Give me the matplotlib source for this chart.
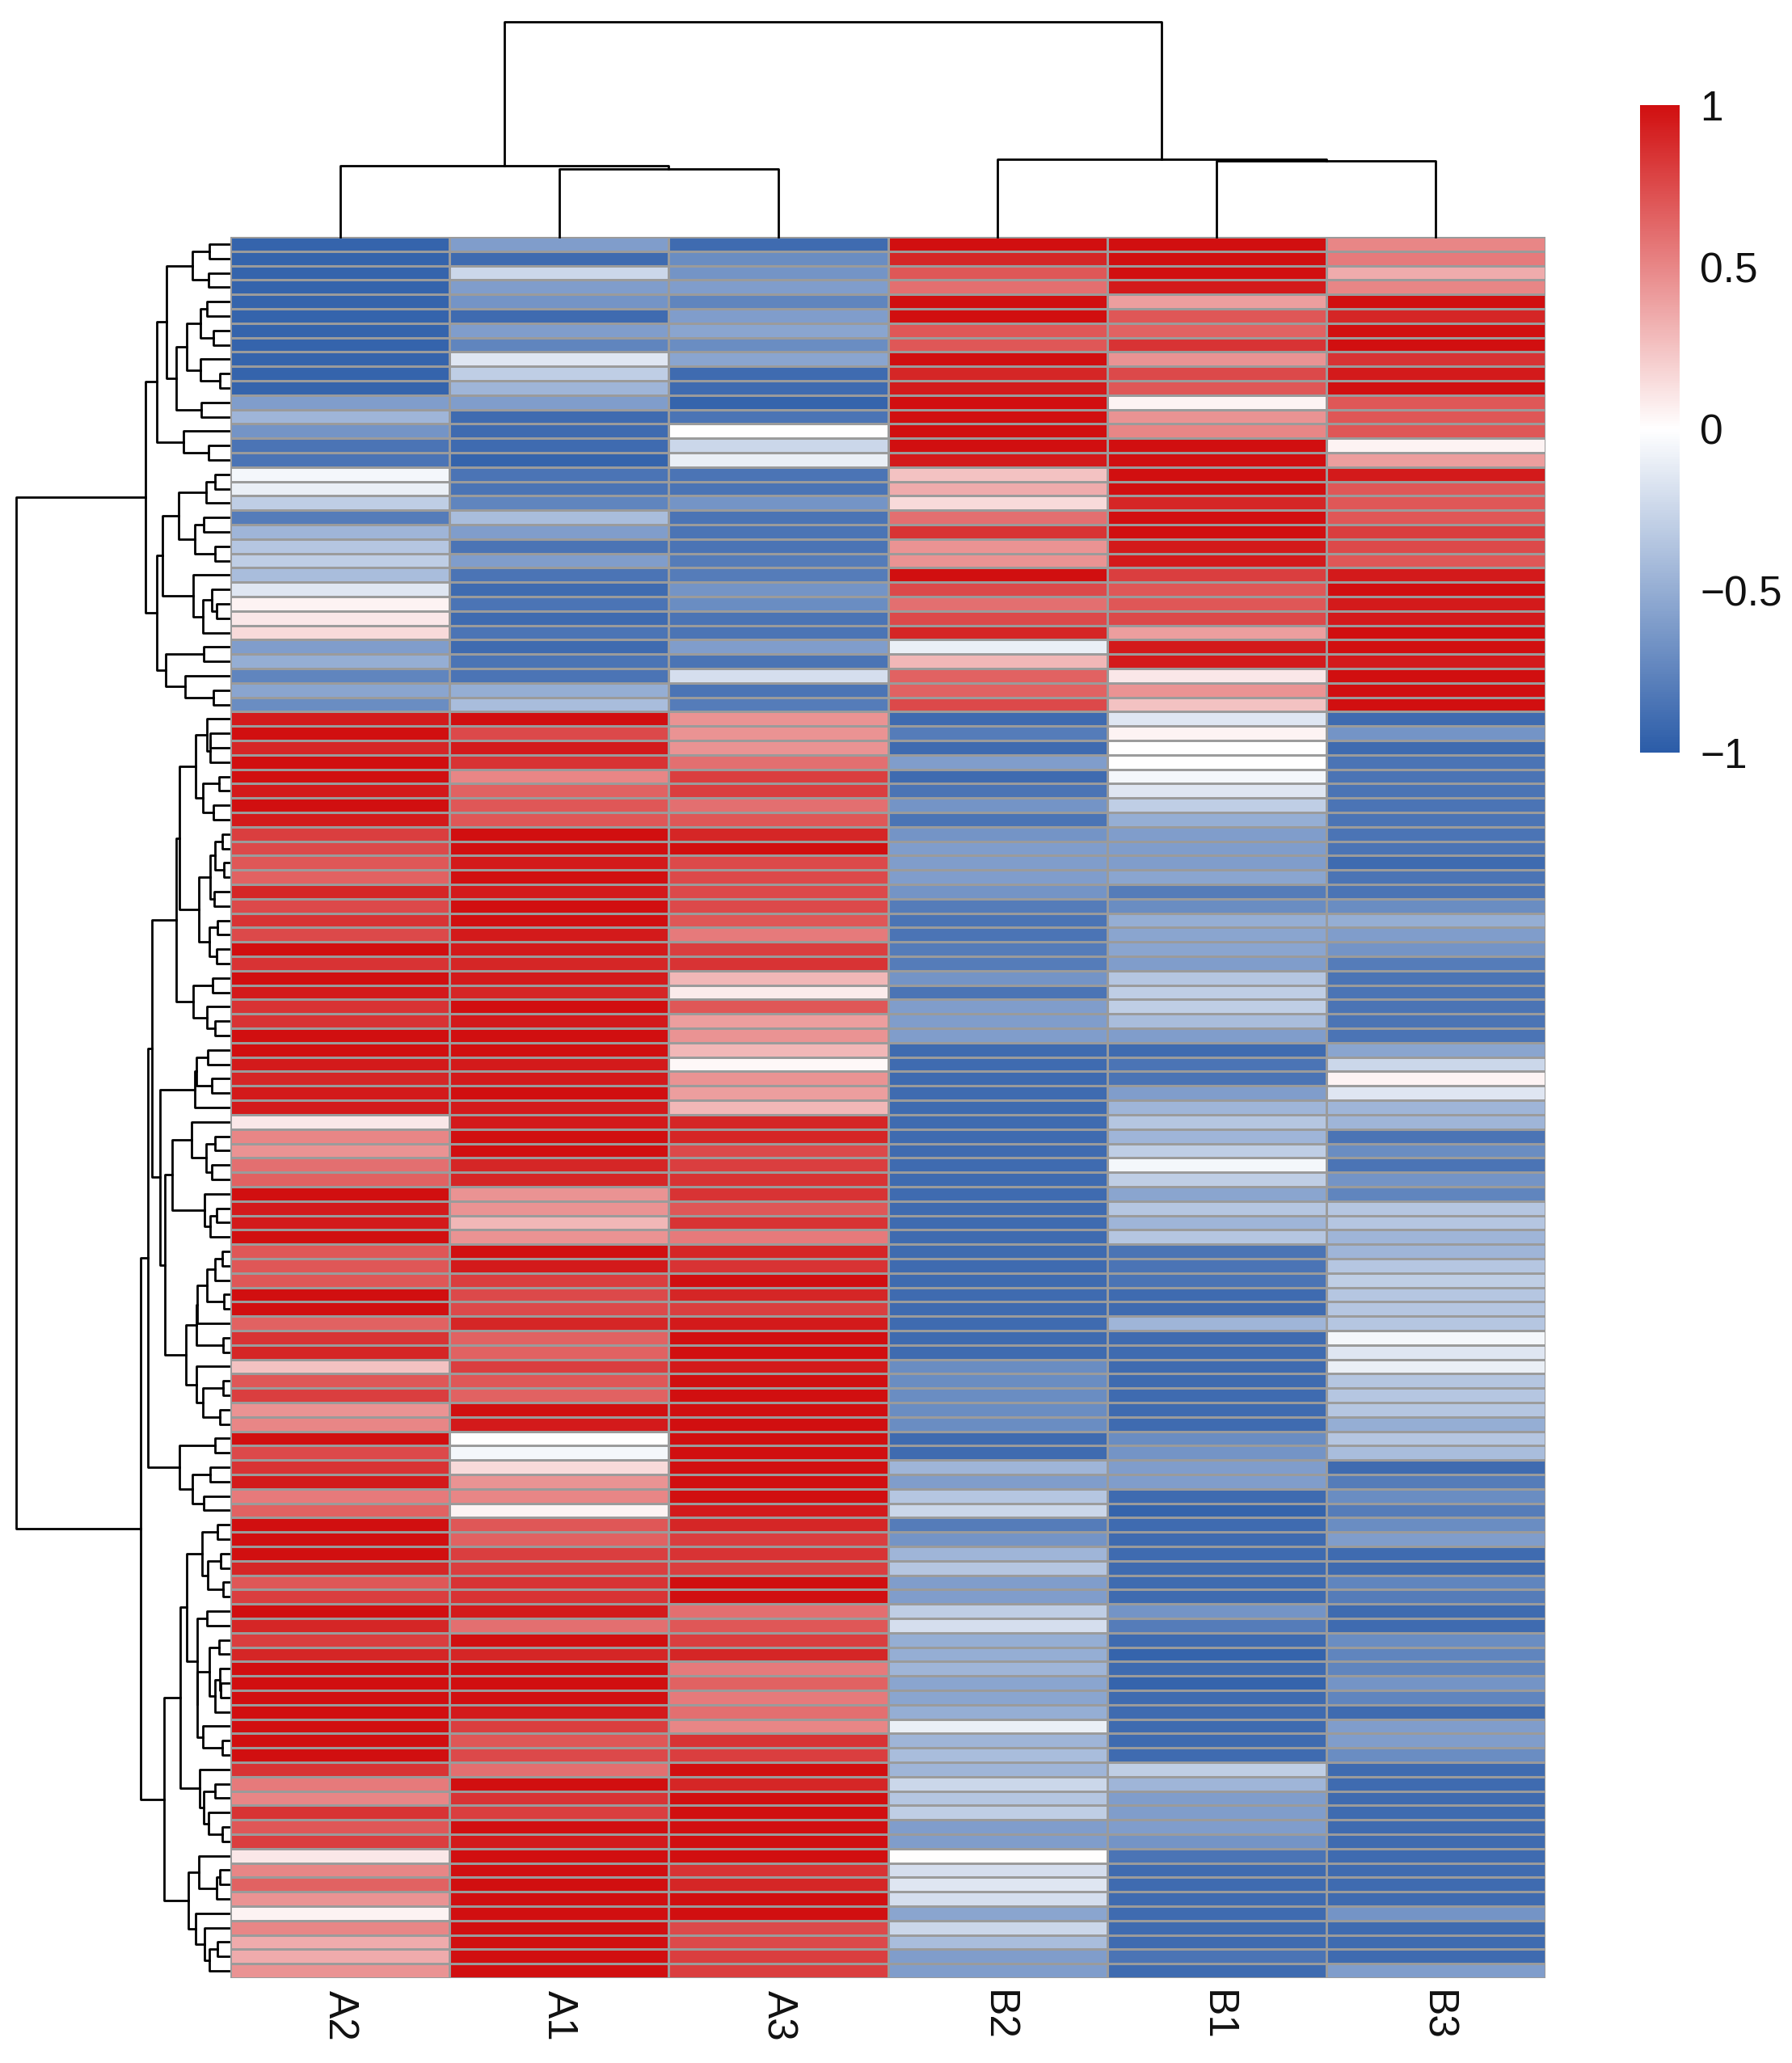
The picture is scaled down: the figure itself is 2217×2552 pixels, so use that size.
import numpy as np
import matplotlib
matplotlib.use('Agg')
import matplotlib.pyplot as plt
from matplotlib.colors import LinearSegmentedColormap

plt.rcParams['font.family'] = ['Liberation Sans', 'DejaVu Sans']

# 样本顺序（与图中列顺序一致）
samples = ['A2', 'A1', 'A3', 'B2', 'B1', 'B3']

# 每列 121 个基因的标准化表达值，从上到下
A2 = [-0.95, -0.95, -0.95, -0.95, -0.95, -0.95, -0.95, -0.95, -0.95, -0.95, -0.95, -0.6, -0.45, -0.65, -0.85, -0.85, -0.05,
      -0.1, -0.3, -0.8, -0.45, -0.35, -0.3, -0.4, -0.15, 0.05, 0.1, 0.15, -0.6, -0.5, -0.75, -0.55, -0.7, 0.95, 1, 0.9,
      1, 1, 0.95, 1, 0.95, 0.8, 0.75, 0.7, 0.65, 0.9, 0.75, 0.85, 0.75, 1, 0.85, 1, 0.95, 0.85, 0.85,
      1, 1, 0.95, 0.9, 0.95, 0.95, 0.1, 0.5, 0.45, 0.6, 0.65, 1, 0.95, 0.95, 1, 0.7, 0.7, 0.7,
      1, 1, 0.65, 0.85, 0.9, 0.25, 0.7, 0.8, 0.45, 0.5, 1, 0.75, 0.85, 0.95, 0.55, 0.65, 1, 1, 1,
      0.9, 0.7, 0.8, 1, 0.9, 0.8, 0.9, 1, 1, 1, 1, 1, 1, 1, 0.85, 0.55, 0.5, 0.85,
      0.7, 0.8, 0.1, 0.5, 0.65, 0.45, 0.05, 0.5, 0.35, 0.35, 0.45]
A1 = [-0.6, -0.9, -0.25, -0.6, -0.65, -0.9, -0.6, -0.75, -0.15, -0.3, -0.45, -0.6, -0.9, -0.9, -0.9, -0.95, -0.85,
      -0.85, -0.75, -0.4, -0.6, -0.85, -0.6, -0.85, -0.9, -0.85, -0.9, -0.85, -0.9, -0.85, -0.85, -0.5, -0.4, 1, 0.75, 0.95,
      0.85, 0.5, 0.65, 0.7, 0.7, 1, 1, 0.95, 1, 0.95, 1, 1, 0.95, 0.95, 0.9, 0.95, 0.9, 1, 0.95,
      1, 1, 0.95, 0.95, 1, 0.95, 0.95, 1, 1, 0.9, 0.9, 0.45, 0.45, 0.3, 0.45, 1, 0.95, 0.8,
      0.75, 0.75, 0.9, 0.65, 0.65, 0.8, 0.7, 0.65, 1, 0.95, 0.0, -0.05, 0.15, 0.45, 0.5, 0.05, 0.7, 0.65, 0.8,
      0.8, 0.85, 0.85, 0.95, 0.6, 1, 0.9, 1, 1, 1, 0.95, 0.8, 0.7, 0.75, 0.6, 1, 0.85, 0.8,
      1, 0.95, 1, 1, 1, 1, 1, 1, 1, 1, 1]
A3 = [-0.9, -0.7, -0.65, -0.6, -0.75, -0.6, -0.55, -0.7, -0.55, -0.9, -0.9, -0.95, -0.85, 0.0, -0.25, -0.1, -0.85,
      -0.85, -0.65, -0.85, -0.85, -0.85, -0.8, -0.8, -0.65, -0.7, -0.85, -0.85, -0.6, -0.85, -0.2, -0.85, -0.8, 0.45, 0.45, 0.45,
      0.6, 0.8, 0.8, 0.6, 0.7, 0.9, 1, 0.75, 0.75, 0.75, 0.75, 0.7, 0.55, 0.8, 0.85, 0.3, 0.08, 0.7, 0.4,
      0.45, 0.3, 0.03, 0.45, 0.4, 0.3, 0.9, 0.9, 0.75, 0.8, 0.85, 0.85, 0.7, 0.85, 0.55, 0.9, 0.85, 1,
      0.9, 0.8, 0.95, 1, 1, 0.95, 1, 1, 1, 1, 1, 1, 1, 1, 1, 0.95, 0.9, 0.8, 0.85,
      0.8, 1, 1, 0.6, 0.7, 0.8, 0.9, 0.55, 0.65, 0.55, 0.6, 0.5, 0.85, 0.8, 1, 0.9, 1, 1,
      1, 1, 1, 0.85, 0.9, 1, 1, 0.75, 0.75, 0.8, 0.8]
B2 = [1, 0.9, 0.7, 0.6, 1, 1, 0.7, 0.7, 1, 0.9, 0.95, 1, 1, 1, 1, 0.95, 0.25,
      0.35, 0.15, 0.6, 0.85, 0.45, 0.45, 1, 0.75, 0.6, 0.75, 0.9, -0.1, 0.3, 0.65, 0.65, 0.75, -0.9, -0.8, -0.9,
      -0.6, -0.9, -0.85, -0.65, -0.85, -0.65, -0.6, -0.6, -0.6, -0.65, -0.8, -0.85, -0.85, -0.8, -0.8, -0.65, -0.85, -0.6, -0.6,
      -0.6, -0.9, -0.9, -0.9, -0.9, -0.9, -0.9, -0.9, -0.9, -0.9, -0.9, -0.9, -0.9, -0.9, -0.9, -0.9, -0.9, -0.9,
      -0.9, -0.9, -0.9, -0.9, -0.9, -0.7, -0.7, -0.7, -0.7, -0.7, -0.9, -0.9, -0.45, -0.6, -0.35, -0.25, -0.8, -0.65, -0.45,
      -0.35, -0.6, -0.6, -0.3, -0.2, -0.5, -0.5, -0.45, -0.55, -0.55, -0.5, -0.1, -0.45, -0.4, -0.45, -0.25, -0.35, -0.3,
      -0.6, -0.6, 0.0, -0.2, -0.15, -0.2, -0.55, -0.25, -0.4, -0.6, -0.6]
B1 = [1, 1, 1, 0.95, 0.4, 0.7, 0.65, 0.85, 0.45, 0.75, 0.7, 0.05, 0.45, 0.5, 1, 1, 1,
      1, 0.9, 1, 1, 0.95, 0.95, 0.8, 0.7, 0.7, 0.75, 0.4, 0.95, 0.95, 0.1, 0.45, 0.25, -0.15, 0.05, 0.0,
      0.0, -0.05, -0.15, -0.3, -0.5, -0.6, -0.6, -0.6, -0.55, -0.8, -0.7, -0.5, -0.55, -0.55, -0.6, -0.35, -0.3, -0.3, -0.4,
      -0.6, -0.9, -0.85, -0.85, -0.6, -0.45, -0.35, -0.45, -0.3, -0.05, -0.3, -0.55, -0.35, -0.45, -0.35, -0.85, -0.85, -0.85,
      -0.9, -0.9, -0.45, -0.9, -0.9, -0.9, -0.9, -0.9, -0.9, -0.9, -0.7, -0.65, -0.6, -0.6, -0.9, -0.95, -0.9, -0.9, -0.9,
      -0.9, -0.9, -0.9, -0.65, -0.8, -0.9, -0.95, -0.9, -0.95, -0.9, -0.9, -0.9, -0.9, -0.9, -0.3, -0.45, -0.6, -0.6,
      -0.6, -0.65, -0.85, -0.9, -0.9, -0.9, -0.9, -0.9, -0.9, -0.85, -0.9]
B3 = [0.5, 0.55, 0.35, 0.5, 1, 0.9, 1, 1, 0.85, 0.95, 1, 0.7, 0.7, 0.7, 0.05, 0.4, 0.95,
      0.7, 0.7, 0.7, 0.8, 0.75, 0.7, 0.95, 1, 0.95, 0.95, 1, 1, 0.95, 1, 1, 1, -0.9, -0.65, -0.9,
      -0.85, -0.85, -0.85, -0.85, -0.85, -0.85, -0.85, -0.9, -0.85, -0.85, -0.7, -0.5, -0.6, -0.65, -0.8, -0.85, -0.85, -0.85, -0.85,
      -0.85, -0.55, -0.25, 0.05, -0.15, -0.45, -0.45, -0.85, -0.7, -0.85, -0.65, -0.75, -0.35, -0.35, -0.45, -0.45, -0.35, -0.3,
      -0.35, -0.35, -0.35, -0.05, -0.15, -0.1, -0.35, -0.35, -0.35, -0.5, -0.35, -0.4, -0.9, -0.8, -0.7, -0.8, -0.7, -0.6, -0.9,
      -0.9, -0.75, -0.8, -0.9, -0.9, -0.7, -0.75, -0.75, -0.65, -0.75, -0.9, -0.6, -0.6, -0.7, -0.9, -0.9, -0.9, -0.9,
      -0.9, -0.9, -0.9, -0.9, -0.9, -0.9, -0.65, -0.9, -0.9, -0.9, -0.6]

# 列聚类树：左节点, 右节点, 高度/树高
col_links = [(1, 2, 0.316), (0, 6, 0.331), (4, 5, 0.353), (3, 8, 0.361), (7, 9, 1.0)]

cbar_ticks = [-1, -0.5, 0, 0.5, 1]
cbar_labels = ['\u22121', '\u22120.5', '0', '0.5', '1']

mat = np.column_stack([A2, A1, A3, B2, B1, B3])
n_rows, n_cols = mat.shape

cmap = LinearSegmentedColormap.from_list('bwr2', ['#2B5CA8', '#FFFFFF', '#D10F10'])

W, H = 2217, 2552


def box(x0, y0, x1, y1):
    # 像素坐标（左上为原点）转成 figure 坐标
    return [x0 / W, 1 - y1 / H, (x1 - x0) / W, (y1 - y0) / H]


# 行聚类：只合并相邻的簇（保持图中顺序），complete linkage
def adjacent_tree(m):
    d = np.sqrt(((m[:, None, :] - m[None, :, :]) ** 2).sum(-1))
    nodes = [(i, i + 1, i + 0.5, 0.0) for i in range(len(m))]
    links = []
    while len(nodes) > 1:
        gaps = [d[a[0]:a[1], b[0]:b[1]].max() for a, b in zip(nodes[:-1], nodes[1:])]
        k = int(np.argmin(gaps))
        a, b = nodes[k], nodes[k + 1]
        h = max(gaps[k], a[3], b[3])
        links.append((a[2], a[3], b[2], b[3], h))
        nodes[k:k + 2] = [(a[0], b[1], (a[2] + b[2]) / 2, h)]
    return links


fig = plt.figure(figsize=(W / 100, H / 100), dpi=100)

# 热图
ax = fig.add_axes(box(285, 293, 1912, 2447))
mesh = ax.pcolormesh(mat, cmap=cmap, vmin=-1, vmax=1, edgecolors='#9b9b9b', linewidth=1.0)
ax.set_xlim(0, n_cols)
ax.set_ylim(n_rows, 0)
ax.set_xticks(np.arange(n_cols) + 0.5)
ax.set_xticklabels(samples, rotation=270, fontsize=37, color='#111111')
ax.set_yticks([])
ax.tick_params(axis='x', length=0, pad=11)
for s in ax.spines.values():
    s.set_visible(False)

# 左侧行树
axr = fig.add_axes(box(20, 293, 283, 2447))
row_links = adjacent_tree(mat)
for y1, h1, y2, h2, h in row_links:
    axr.plot([h1, h, h, h2], [y1, y1, y2, y2], color='black', lw=2, clip_on=False)
axr.set_xlim(max(l[4] for l in row_links), 0)
axr.set_ylim(n_rows, 0)
axr.axis('off')

# 顶部列树
axc = fig.add_axes(box(285, 27, 1912, 293))
pos = {i: (i + 0.5, 0.0) for i in range(n_cols)}
for k, (i, j, h) in enumerate(col_links):
    x1, h1 = pos[i]
    x2, h2 = pos[j]
    axc.plot([x1, x1, x2, x2], [h1, h, h, h2], color='black', lw=2, clip_on=False)
    pos[n_cols + k] = ((x1 + x2) / 2, h)
axc.set_xlim(0, n_cols)
axc.set_ylim(0, 1)
axc.axis('off')

# 色条
cax = fig.add_axes(box(2029, 130, 2078, 931))
cb = fig.colorbar(mesh, cax=cax, ticks=cbar_ticks)
cb.set_ticklabels(cbar_labels)
cb.outline.set_visible(False)
cax.tick_params(length=0, pad=18, labelsize=37, labelcolor='#111111')

fig.savefig('out.png', dpi=100, facecolor='white')
